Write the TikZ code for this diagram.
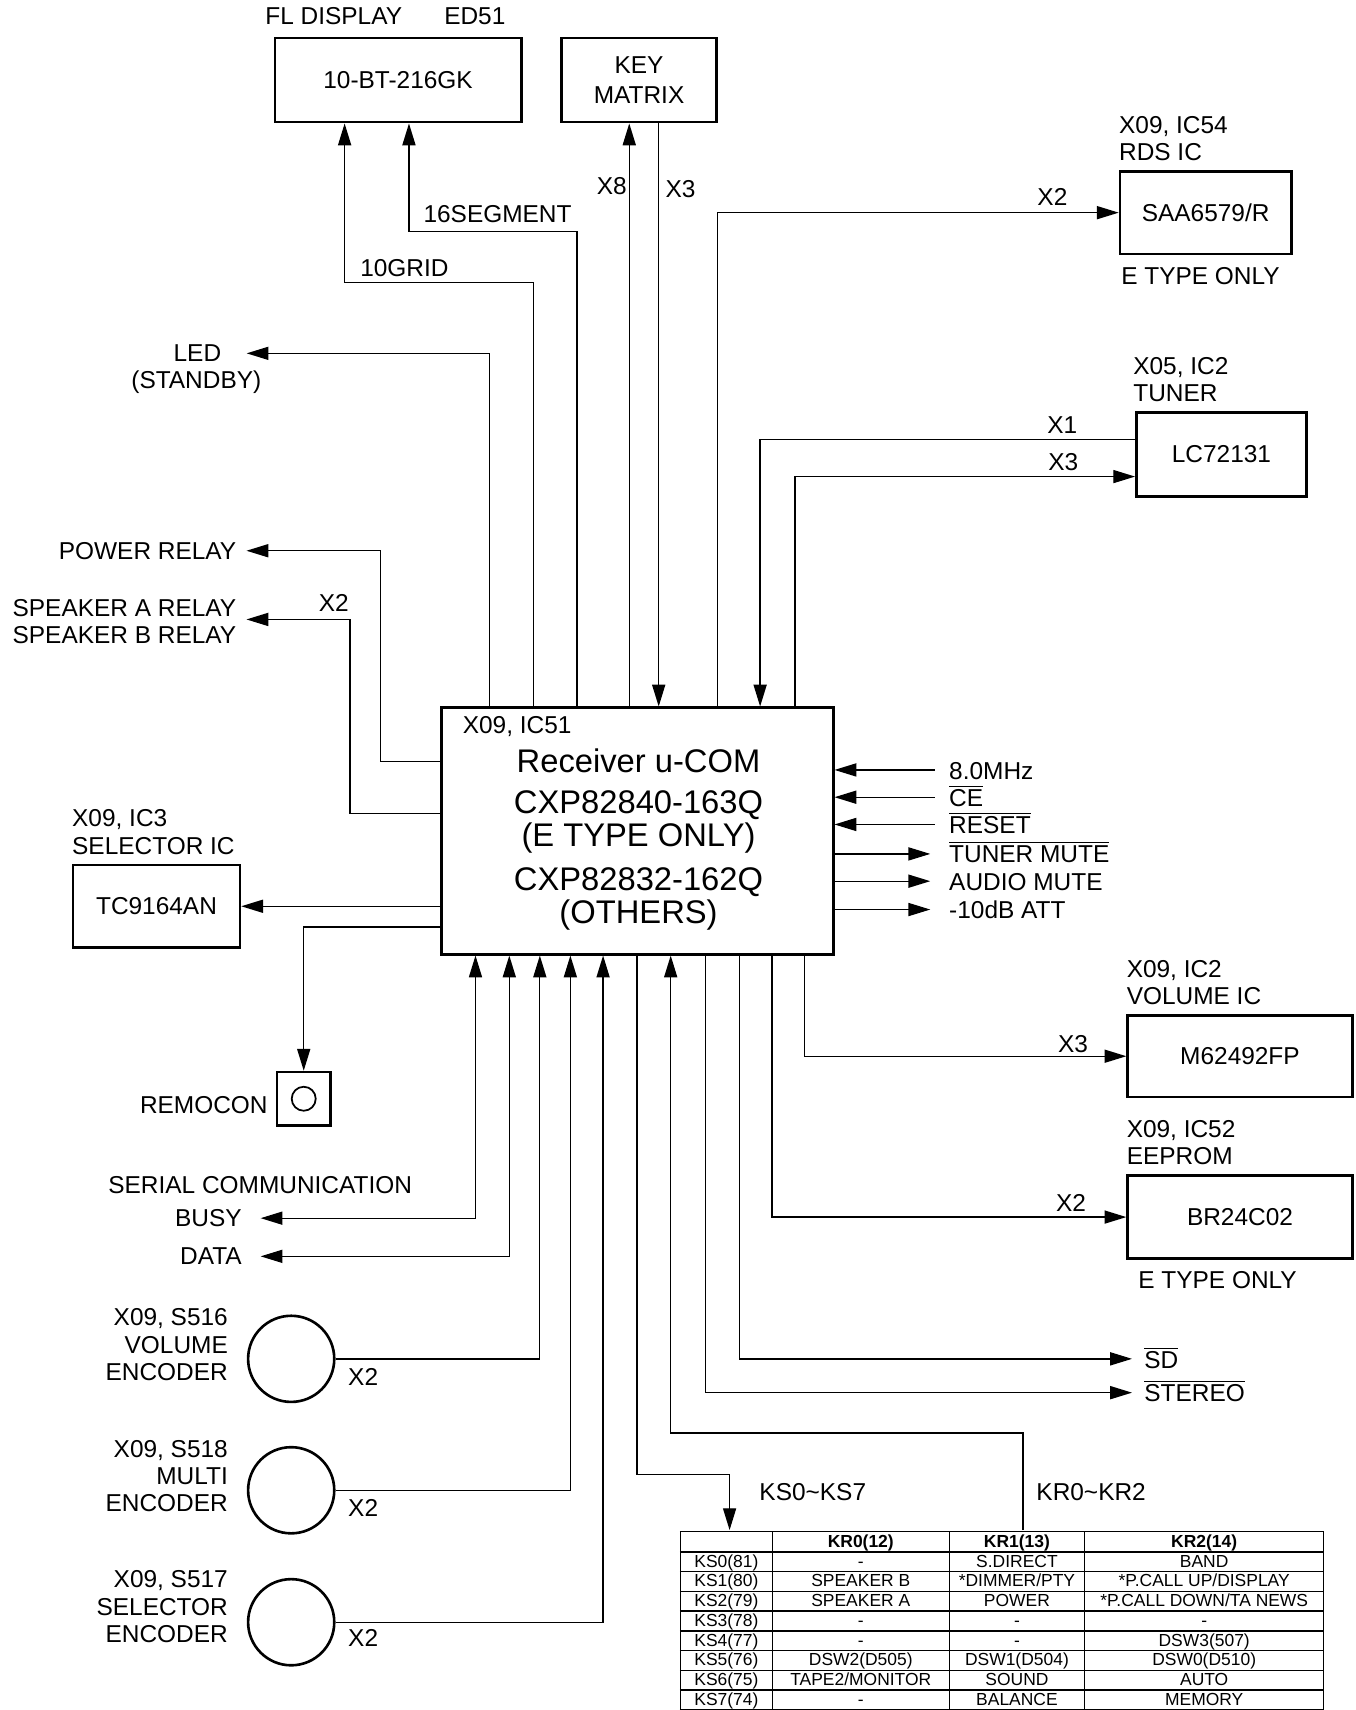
\documentclass[tikz,border=0pt]{standalone}
\usepackage{fontspec}
\setmainfont{Liberation Sans}
\usepackage{array}
\usetikzlibrary{arrows.meta, positioning}
\newcommand\fsz[2]{\fontsize{#1}{#2}\selectfont}
\newcommand\ovl[1]{$\overline{\mbox{#1}}$}
\newcommand\rs{\rule[-1.8pt]{0pt}{8.45pt}}
\newcolumntype{C}[1]{>{\centering\arraybackslash}p{#1}}

\begin{document}
\begin{tikzpicture}[
        x = 0.5pt, y = -0.5pt,
        chip/.style = {draw, line width = 1.2pt, align = center, inner sep = 0pt, font = \fsz{11.2}{13.5}},
        lab/.style = {font = \fsz{11.2}{12.6}, inner sep = 1pt},
        wire/.style = {line width = 0.6pt},
        arr/.style = {wire, -{Triangle[length = 10pt, width = 6pt]}},
        biarr/.style = {wire, {Triangle[length = 10pt, width = 6pt]}-{Triangle[length = 10pt, width = 6pt]}},
        enc/.style = {draw, circle, line width = 1.2pt, minimum size = 39.5pt, inner sep = 0pt}
    ]
        \useasboundingbox (0,0) rectangle (1243,1568);

        \node[chip, minimum width = 113pt, minimum height = 38.5pt] (fl) at (365,73.5) {10-BT-216GK};
        \node[chip, minimum width = 71pt, minimum height = 38.5pt] (key) at (586,73.5) {KEY\\MATRIX};
        \node[chip, minimum width = 78.5pt, minimum height = 38pt] (rds) at (1105.5,195) {SAA6579/R};
        \node[chip, minimum width = 78pt, minimum height = 38.5pt] (tun) at (1120,416.5) {LC72131};
        \node[chip, minimum width = 76.5pt, minimum height = 38pt] (sel) at (143.5,831) {TC9164AN};
        \node[chip, minimum width = 103pt, minimum height = 37.5pt] (vol) at (1137,968.5) {M62492FP};
        \node[chip, minimum width = 103pt, minimum height = 38pt] (eep) at (1137,1116) {BR24C02};
        \node[chip, minimum width = 179.5pt, minimum height = 113pt] (mcu) at (584.5,762) {};

        \node[font = \fsz{15}{15}, align = center] (mcutxt) at (585.5,770) {
            Receiver u-COM
            \\[3.5pt]
            CXP82840-163Q
            \\
            (E TYPE ONLY)
            \\[5.5pt]
            CXP82832-162Q
            \\
            (OTHERS)
        };
        \node[lab, anchor = west] (mcuid) at (422,666) {X09, IC51};

        \node[lab, anchor = west] (fltag) at (241,15) {FL DISPLAY};
        \node[lab, anchor = west] (edtag) at (405,15) {ED51};
        \node[lab, align = left, above right = 3pt and -1pt of rds.north west] (rdsid) {X09, IC54\\RDS IC};
        \node[lab, below right = 4.5pt and 0pt of rds.south west] (rdsnote) {E TYPE ONLY};
        \node[lab, align = left, above right = 3pt and -2pt of tun.north west] (tunid) {X05, IC2\\TUNER};
        \node[lab, align = left, above right = 3pt and -1pt of sel.north west] (selid) {X09, IC3\\SELECTOR IC};
        \node[lab, align = left, above right = 3pt and -1pt of vol.north west] (volid) {X09, IC2\\VOLUME IC};
        \node[lab, align = left, above right = 3pt and -1pt of eep.north west] (eepid) {X09, IC52\\EEPROM};
        \node[lab, below right = 4pt and 4.3pt of eep.south west] (eepnote) {E TYPE ONLY};

        \node[chip, minimum size = 24.5pt] (remo) at (278.5,1007.5) {};
        \node[draw, circle, line width = 0.8pt, minimum size = 11pt, inner sep = 0pt] (remeye) at (remo.center) {};
        \node[lab, left = 2.5pt of remo, yshift = -3pt] (remtag) {REMOCON};

        \node[enc] (venc) at (267,1246) {};
        \node[enc] (menc) at (267,1366.5) {};
        \node[enc] (senc) at (267,1487.5) {};
        \node[lab, align = right, left = 7.5pt of venc, yshift = 6.5pt] (vencid) {X09, S516\\VOLUME\\ENCODER};
        \node[lab, align = right, left = 7.5pt of menc, yshift = 6.5pt] (mencid) {X09, S518\\MULTI\\ENCODER};
        \node[lab, align = right, left = 7.5pt of senc, yshift = 7pt] (sencid) {X09, S517\\SELECTOR\\ENCODER};
        \node[lab] (vx2) at (333,1263) {X2};
        \node[lab] (mx2) at (333,1383) {X2};
        \node[lab] (sx2) at (333,1502) {X2};

        \node[anchor = north west, inner sep = 0pt, font = \fsz{8}{8.5}] (keytab) at (623,1403) {%
            \renewcommand\arraystretch{0}%
            \setlength\tabcolsep{0pt}%
            \setlength\arrayrulewidth{0.6pt}%
            \begin{tabular}{|C{41.5pt}|C{80.5pt}|C{61.5pt}|C{109pt}|}
                \hline
                \rule[-1.8pt]{0pt}{8.9pt} & \textbf{KR0(12)} & \textbf{KR1(13)} & \textbf{KR2(14)} \\ \hline
                \rs KS0(81) & - & S.DIRECT & BAND \\ \hline
                \rs KS1(80) & SPEAKER B & *DIMMER/PTY & *P.CALL UP/DISPLAY \\ \hline
                \rs KS2(79) & SPEAKER A & POWER & *P.CALL DOWN/TA NEWS \\ \hline
                \rs KS3(78) & - & - & - \\ \hline
                \rs KS4(77) & - & - & DSW3(507) \\ \hline
                \rs KS5(76) & DSW2(D505) & DSW1(D504) & DSW0(D510) \\ \hline
                \rs KS6(75) & TAPE2/MONITOR & SOUND & AUTO \\ \hline
                \rs KS7(74) & - & BALANCE & MEMORY \\ \hline
            \end{tabular}};

        \node[lab, anchor = west] (grid) at (328,246) {10GRID};
        \node[lab, anchor = west] (seg) at (386,196) {16SEGMENT};
        \node[lab] (kx8) at (561,171) {X8};
        \node[lab] (kx3) at (624,173) {X3};
        \draw[arr] (mcu.north -| 489,0) |- (316,259) -- (fl.south -| 316,0);
        \draw[arr] (mcu.north -| 529,0) |- (375,212) -- (fl.south -| 375,0);
        \draw[arr] (mcu.north -| 577,0) -- (key.south -| 577,0);
        \draw[arr] (key.south -| 604,0) -- (mcu.north -| 604,0);

        \node[lab] (led) at (181,324) {LED};
        \node[lab] (standby) at (180,350) {(STANDBY)};
        \draw[arr, shorten >= 10.5pt] (mcu.north -| 449,0) |- (led.east);

        \node[lab] (rdsx) at (965,181) {X2};
        \node[lab] (tunx1) at (974,390) {X1};
        \node[lab] (tunx3) at (975,424) {X3};
        \draw[arr] (mcu.north -| 658,0) |- (rds.west);
        \draw[arr] (tun.west |- 0,403) -| (mcu.north -| 697,0);
        \draw[arr] (mcu.north -| 729,0) |- (tun.west |- 0,437);

        \node[lab, anchor = east] (pwr) at (219,505) {POWER RELAY};
        \node[lab, align = right, anchor = east] (spk) at (219,570) {SPEAKER A RELAY\\SPEAKER B RELAY};
        \node[lab] (spkx) at (306,553) {X2};
        \draw[arr, shorten >= 3.5pt] (mcu.west |- 0,698) -| (349,505) -- (pwr.east);
        \draw[arr, shorten >= 3.5pt] (mcu.west |- 0,746) -| (321,568) -- (spk.east |- 0,568);
        \draw[arr] (mcu.west |- sel.east) -- (sel.east);
        \draw[arr] (mcu.west |- 0,850) -| (remo.north);

        \node[lab, anchor = base west] (osc) at (868,715) {8.0MHz};
        \node[lab, anchor = base west] (ce) at (868,739.5) {\ovl{CE}};
        \node[lab, anchor = base west] (rst) at (868,764.5) {\ovl{RESET}};
        \node[lab, anchor = base west] (tmute) at (868,791) {\ovl{TUNER MUTE}};
        \node[lab, anchor = base west] (amute) at (868,817) {AUDIO MUTE};
        \node[lab, anchor = base west] (att) at (868,842.5) {-10dB ATT};
        \draw[arr, shorten <= 5.5pt] (osc.west |- 0,706) -- (mcu.east |- 0,706);
        \draw[arr, shorten <= 5.5pt] (ce.west |- 0,731) -- (mcu.east |- 0,731);
        \draw[arr, shorten <= 5.5pt] (rst.west |- 0,756) -- (mcu.east |- 0,756);
        \draw[arr, shorten >= 7.5pt] (mcu.east |- 0,783) -- (tmute.west |- 0,783);
        \draw[arr, shorten >= 7.5pt] (mcu.east |- 0,808) -- (amute.west |- 0,808);
        \draw[arr, shorten >= 7.5pt] (mcu.east |- 0,834) -- (att.west |- 0,834);

        \node[lab, anchor = west] (serial) at (97,1087) {SERIAL COMMUNICATION};
        \node[lab, anchor = east] (busy) at (224,1117) {BUSY};
        \node[lab, anchor = east] (data) at (224,1152) {DATA};
        \draw[biarr, shorten >= 7.5pt] (mcu.south -| 436,0) |- (busy.east);
        \draw[biarr, shorten >= 7.5pt] (mcu.south -| 467,0) |- (data.east);
        \draw[arr] (venc.east) -| (mcu.south -| 495,0);
        \draw[arr] (menc.east) -| (mcu.south -| 523,0);
        \draw[arr] (senc.east) -| (mcu.south -| 553,0);

        \node[lab, anchor = west] (ksl) at (694,1368) {KS0\textasciitilde KS7};
        \node[lab, anchor = west] (krl) at (948,1368) {KR0\textasciitilde KR2};
        \draw[arr] (mcu.south -| 584,0) |- (669,1352) -- (keytab.north -| 669,0);
        \draw[arr] (keytab.north -| 938,0) |- (615,1314) -- (mcu.south -| 615,0);

        \node[lab, anchor = base west] (sd) at (1047,1255) {\ovl{SD}};
        \node[lab, anchor = base west] (stereo) at (1047,1285.5) {\ovl{STEREO}};
        \node[lab] (volx3) at (984,957) {X3};
        \node[lab] (eepx2) at (982,1103) {X2};
        \draw[arr, shorten >= 4.5pt] (mcu.south -| 678,0) |- (sd.west |- 0,1246);
        \draw[arr, shorten >= 4.5pt] (mcu.south -| 647,0) |- (stereo.west |- 0,1277);
        \draw[arr] (mcu.south -| 738,0) |- (vol.west);
        \draw[arr] (mcu.south -| 708,0) |- (eep.west);
    \end{tikzpicture}
\end{document}
